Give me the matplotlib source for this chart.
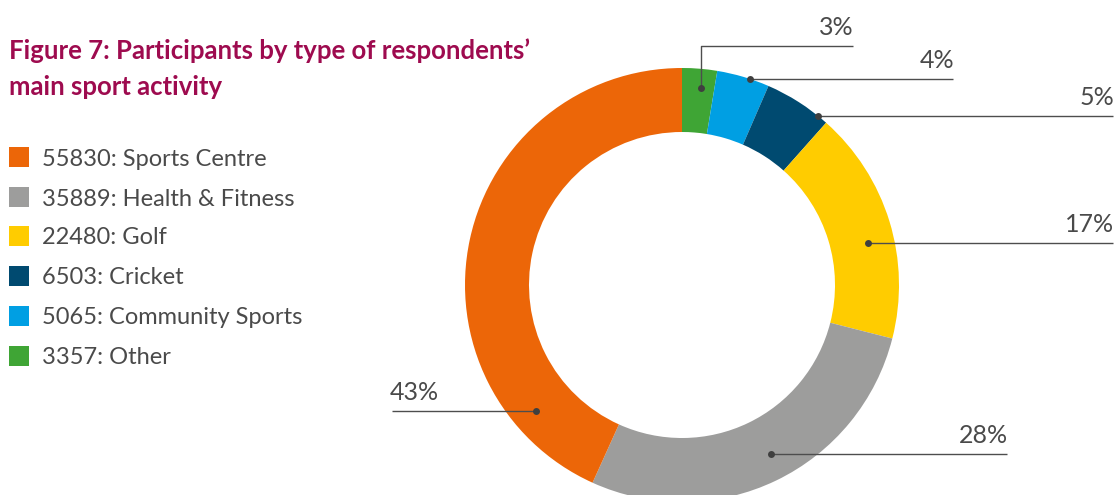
import numpy as np
import matplotlib
matplotlib.use('Agg')
import matplotlib.pyplot as plt

plt.rcParams['font.family'] = ['Lato', 'DejaVu Sans']

# data (legend order)
categories = ['Sports Centre', 'Health & Fitness', 'Golf', 'Cricket', 'Community Sports', 'Other']
participants = [55830, 35889, 22480, 6503, 5065, 3357]
colors = ['#EC6608', '#9D9D9C', '#FFCC00', '#004A70', '#009FE3', '#3FA535']

text_col = '#4A4A4A'
title_col = '#9E0B4F'
W, H = 1114, 495

fig = plt.figure(figsize=(W/100., H/100.), dpi=100)
ax = fig.add_axes([0, 0, 1, 1])

# donut drawn clockwise from the top, smallest slice first
order = list(range(len(categories)))[::-1]
vals = [participants[i] for i in order]
cols = [colors[i] for i in order]
cx, cy, R = 682, H - 285, 217
wedges, _ = ax.pie(vals, colors=cols, startangle=90, counterclock=False,
                   radius=R, center=(cx, cy),
                   wedgeprops=dict(width=64, linewidth=0))

ax.set_xlim(0, W)
ax.set_ylim(0, H)
ax.set_aspect('equal')
ax.axis('off')

total = float(sum(participants))
pct = [100.*v/total for v in participants]

# label layout: position inside wedge (fraction), radius fraction, line end x, elbow y (pixels from top), side
layout = {
    'Other':            (0.59, 0.91, 853, 46, 'r'),
    'Community Sports': (0.63, 1.00, 953, None, 'r'),
    'Cricket':          (0.84, 1.00, 1113, None, 'r'),
    'Golf':             (0.57, 0.88, 1113, None, 'r'),
    'Health & Fitness': (0.48, 0.88, 1007, None, 'r'),
    'Sports Centre':    (0.16, 0.89, 392, None, 'l'),
}

cum = 0.
for k, i in enumerate(order):
    frac = participants[i]/total
    f, rf, end_x, elbow, side = layout[categories[i]]
    ang = 360.*(cum + f*frac)
    cum += frac
    a = np.radians(90 - ang)
    px = cx + rf*R*np.cos(a)
    py = cy + rf*R*np.sin(a)
    ly = py if elbow is None else H - elbow
    if elbow is None:
        ax.plot([px, end_x], [py, py], color='#4D4D4D', lw=1.0, solid_capstyle='butt')
    else:
        ax.plot([px, px, end_x], [py, ly, ly], color='#4D4D4D', lw=1.0, solid_capstyle='butt')
    ax.plot(px, py, 'o', color='#3F3F3F', ms=5, mec='none')
    lbl = '%d%%' % round(pct[i])
    if side == 'r':
        ax.text(end_x + 1, ly + 11, lbl, ha='right', va='baseline', fontsize=18, color=text_col)
    else:
        ax.text(end_x - 2, ly + 11, lbl, ha='left', va='baseline', fontsize=18, color=text_col)

# title
fig.text(9/W, 1 - 59/H, "Figure 7: Participants by type of respondents\u2019", fontsize=18.5,
         fontweight='bold', color=title_col, ha='left', va='baseline')
fig.text(9/W, 1 - 95/H, "main sport activity", fontsize=18.5,
         fontweight='bold', color=title_col, ha='left', va='baseline')

# legend
leg_y = [157, 197, 236, 276, 316, 356]
for i in range(len(categories)):
    y = H - leg_y[i]
    ax.add_patch(plt.Rectangle((9, y - 10), 20, 20, color=colors[i], lw=0))
    ax.text(42, y, '%d: %s' % (participants[i], categories[i]), fontsize=17,
            color=text_col, ha='left', va='center_baseline')

plt.savefig('out.png', dpi=100)
